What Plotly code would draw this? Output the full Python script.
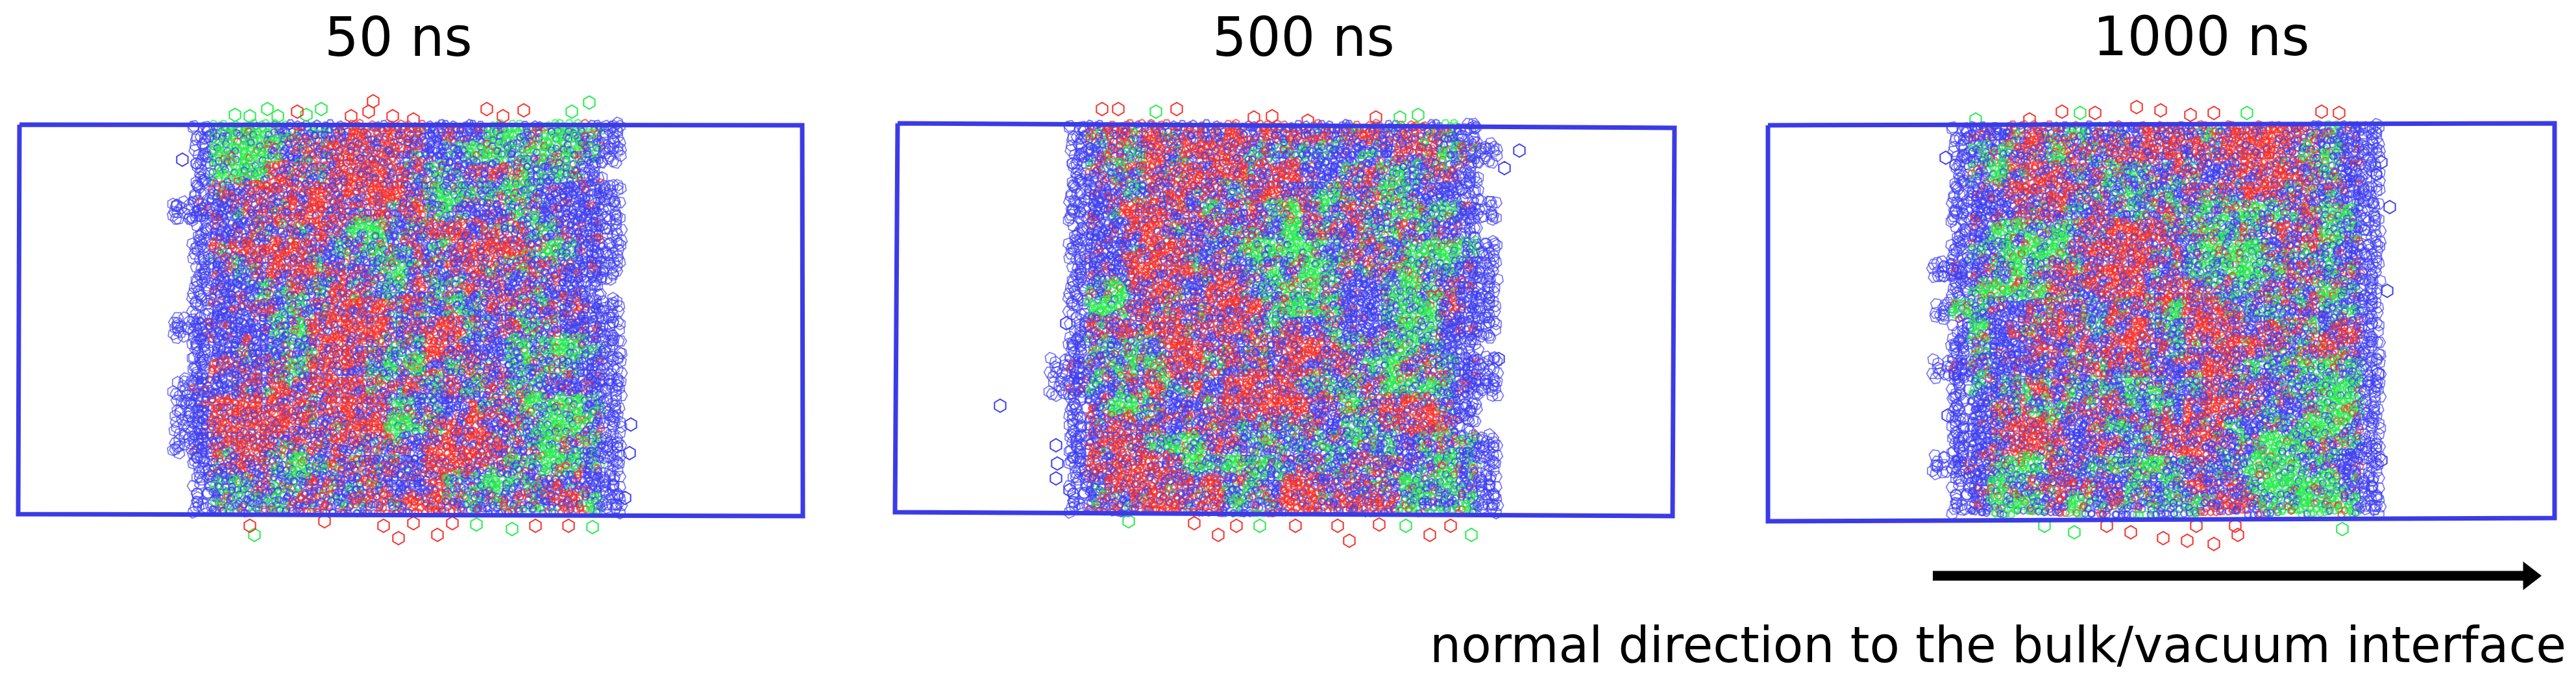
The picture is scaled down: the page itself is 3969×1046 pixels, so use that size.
import plotly.graph_objects as go

# colour read off each 30 px cell of the film, row by row from the top box edge
# . empty, B blue, R red, G green, p blue+red, t blue+green
rows_50 = [
    ".BtGGtptpRRRpBBBtGtGGtt.", ".BGGGtppRRRRpBtGGtGGGtB.", ".tGGGRppRRRRpttppptttB..",
    ".BppRRpRpRRRpGtttGtBBBb.", "bBBpppRRppRpRttBBttBBBb.", ".BBBpppRpGGtpRRpppttBBb.",
    ".BpRRRRpttttptpRRRpttBb.", ".BBtpRRppptGtppRppppBBb.", ".BBBttptppptpttppBpBBb..",
    ".BBBpttpRRRpptttpppppBb.", "bBBBBttRRRRppRRtpptpBBb.", ".BBpBttpRRpttRpBBttGGtB.",
    ".BppBptRRpttGptppttttBB.", "bBBppppRRRppptptpttBBBb.", "bBpRRRRpRRRtttBpppGGGtB.",
    "bBRRRRRppRRGGpRRpptGGtB.", "bBpRRpppRpppBRRRRptGttB.", ".BpRptGtppppBRRRpttGGtB.",
    ".BttpttppppBBpttGttppBB.", ".BttttppppRpRRpttptpRtB.",
]
rows_500 = [
    ".BpRpRpRpRpRRpBpRpRptB..", ".BpptRpRRRtttttBtpRptpB.", ".BptpRpRRRpRRBBtpttppB..",
    ".BBptpRpptpRpttppGtBBB..", ".BBpRRpptpptGptpptGttBB.", ".BBBRRpBptptGpppttptBB..",
    ".BBBpRRpptGGGGtpppttGtB.", ".BBBRRRppptttGtpppGttBB.", ".BtGpRpBpRptGGtBBtGtpBb.",
    ".BGGppppRRRtGGtBBtGGpBb.", ".BpppRRppRptpBtBBtGGBBB.", ".BttttRRppppRRptttGtBB..",
    "bBtttGRRtpppRppptGpptBb.", "bBttpptpBRRRptttpGGGtBb.", ".BtGGpBBpRRRRppGpRRppB..",
    ".BpRppBppppptpBttpRRpB..", ".BpRptGGpptttpttttBtttB.", ".BRRRRpGtGttpptpppBtGtB.",
    ".BpRRRppRpttRRppppGtGtB.", ".BpppRRpRttpRRpRRRGtttB.",
]
rows_1000 = [
    ".BBBpRpGpppRRppRRRRptBB.", ".BttppGpppRRRppRRRpttBb.", ".BtGpRRpptttppBpRRRptBb.",
    ".pBpRRRptttptpppRRpptBb.", ".pBBppptpttppttGGttpttB.", ".BBGGtGppRRRpttttpppGtb.",
    ".BttGGGpRRRpptGGGppptBb.", "bBBtGtppRRRppttGGtpptpB.", ".BGGGGppRRRpRptttpppGtB.",
    "bGtBBppptpppGRRpttppttB.", ".GGBppRptpRptRRRppptpRp.", ".ttBBppppRRptppRppppRpB.",
    "bBtBBBppppppBpRptttGGtB.", ".ttttpptttttttpppBttGGB.", ".BBppttppptttpRRptBtGGB.",
    ".BBpRRpBptppRRptBttGGtB.", ".BBpRRpBpptpRRpptGGtttB.", "bBBtGGpptttGtpptGGGttBB.",
    ".BBGtppppBtttppptGGGGtB.", ".BBGGtpGppttttpRpGGGGtB.",
]

# left edge of each cell grid, picture x
grid_x0 = [270, 1620, 2980]
grid_y0 = [190, 190, 192]

# molecules sticking out of the film
rim_50_x = [362, 385, 412, 428, 472, 495, 881, 908, 392, 734, 789, 913,
            458, 541, 568, 575, 605, 637, 750, 775, 807, 385, 500, 591, 614, 637, 674, 697, 825, 876,
            281, 972, 970, 963]
rim_50_y = [177, 179, 168, 179, 177, 168, 172, 158, 824, 808, 815, 812,
            172, 179, 172, 156, 179, 184, 168, 179, 170, 810, 803, 810, 829, 806, 824, 806, 810, 810,
            246, 654, 698, 767]
rim_50_c = "GGGGGGGGGGGG" + "RRRRRRRRRRRRRRRRRR" + "BBBB"

rim_500_x = [1781, 2185, 2157, 1941, 2166, 2267, 1739,
             1698, 1723, 1813, 1932, 1960, 2015, 2120, 1840, 1877, 1905, 1996, 2061, 2079, 2125, 2203, 2235,
             1627, 1629, 1627, 1648, 1643, 2309, 2318, 2341, 1541]
rim_500_y = [172, 177, 181, 810, 810, 824, 803,
             168, 168, 168, 181, 179, 186, 181, 806, 824, 810, 810, 810, 833, 808, 824, 810,
             686, 714, 737, 755, 498, 553, 259, 232, 625]
rim_500_c = "GGGGGGG" + "RRRRRRRRRRRRRRRR" + "BBBBBBBBB"

rim_1000_x = [3205, 3462, 3044, 3196, 3609, 3150,
              3177, 3228, 3292, 3329, 3375, 3411, 3577, 3604, 3127, 3246, 3283, 3333, 3370, 3411, 3448, 3444, 3384,
              3001, 2998, 3669, 3682, 3678, 3669, 3664, 3012, 3008]
rim_1000_y = [174, 174, 184, 820, 815, 810,
              172, 174, 165, 170, 177, 174, 172, 174, 184, 810, 820, 829, 833, 838, 824, 810, 810,
              640, 243, 250, 319, 448, 709, 576, 576, 415]
rim_1000_c = "GGGGGG" + "RRRRRRRRRRRRRRRRR" + "BBBBBBBBB"

box_50_x = [30, 1236, 1237, 28, 30]
box_50_y = [192, 193, 795, 792, 192]
box_500_x = [1383, 2580, 2577, 1379, 1383]
box_500_y = [190, 197, 795, 789, 190]
box_1000_x = [2724, 3936, 3936, 2724, 2724]
box_1000_y = [193, 190, 798, 803, 193]

titles = ["50 ns", "500 ns", "1000 ns"]
title_x = [614, 2008, 3391]
title_y = [57, 57, 56]

arrow_x = [2978, 3897]
arrow_y = [887, 887]
arrow_label = "normal direction to the bulk/vacuum interface"

BLUE = "#3f3ff0"
RED = "#f6302a"
GREEN = "#26ec4c"
COL = {"b": BLUE, "r": RED, "g": GREEN}
# how a cell letter shares its rings between the three colours
MIX = {"B": "bbbbbbbbrbb", "b": "bbbbbbbbbbb", "R": "rrbrrrbrrbr", "G": "ggbgggbggrg",
       "p": "brbbrbrbgrb", "t": "bgbgbgrbgbb"}
CELL = 30
SUB = 5
PAGE = 8  # the page's own margin around the plot


def weave(i, j, n):
    # fixed index into the mix, so that the rings of a cell do not line up in stripes
    return (7 * i * i + 13 * j * j + 3 * i * j + 5 * i + 11 * j) % 1009 % n


def film_trace(rows, x0, y0):
    xs, ys, cols, angs, sizes, widths = [], [], [], [], [], []
    for r, row in enumerate(rows):
        body = row.strip(".")
        first = row.index(body[0])
        last = first + len(body) - 1
        for c, ch in enumerate(row):
            if ch == ".":
                continue
            edge = c == first or c == last or ch == "b"
            for si in range(SUB):
                for sj in range(SUB):
                    i = r * SUB + si
                    j = c * SUB + sj
                    if edge and weave(i, j, 5) > 2:
                        continue
                    xs.append(x0 + j * CELL / SUB + weave(i, j, 7) * 1.2 - 3.6)
                    ys.append(y0 + i * CELL / SUB + 3 + weave(j, i, 7) * 1.2 - 3.6)
                    cols.append(COL[MIX["b" if edge else ch][weave(i, j, 11)]])
                    angs.append(weave(i, j, 6) * 10)
                    sizes.append(18 if edge else 11)
                    widths.append(1.7 if edge else 2.2)
    return go.Scatter(x=xs, y=ys, mode="markers", hoverinfo="skip", showlegend=False,
                      marker=dict(symbol="hexagon-open", size=sizes, color=cols, angle=angs,
                                  line=dict(width=widths)))


def rim_trace(xs, ys, letters):
    cols = [COL[ch.lower()] for ch in letters]
    return go.Scatter(x=xs, y=ys, mode="markers", hoverinfo="skip", showlegend=False,
                      marker=dict(symbol="hexagon-open", size=20, color=cols, line=dict(width=2)))


def box_trace(xs, ys):
    return go.Scatter(x=xs, y=ys, mode="lines", hoverinfo="skip", showlegend=False,
                      line=dict(color="#3b3be6", width=7))


fig = go.Figure()
all_rows = [rows_50, rows_500, rows_1000]
for k in range(3):
    fig.add_trace(film_trace(all_rows[k], grid_x0[k], grid_y0[k]))
fig.add_trace(rim_trace(rim_50_x, rim_50_y, rim_50_c))
fig.add_trace(rim_trace(rim_500_x, rim_500_y, rim_500_c))
fig.add_trace(rim_trace(rim_1000_x, rim_1000_y, rim_1000_c))
fig.add_trace(box_trace(box_50_x, box_50_y))
fig.add_trace(box_trace(box_500_x, box_500_y))
fig.add_trace(box_trace(box_1000_x, box_1000_y))

# arrow
fig.add_trace(go.Scatter(x=arrow_x, y=arrow_y, mode="lines", hoverinfo="skip", showlegend=False,
                         line=dict(color="black", width=15)))
fig.add_trace(go.Scatter(x=arrow_x[-1:], y=arrow_y[-1:], mode="markers", hoverinfo="skip", showlegend=False,
                         marker=dict(symbol="triangle-right", size=38, color="black")))

for t, x, y in zip(titles, title_x, title_y):
    fig.add_annotation(x=x, y=y, text=t, showarrow=False, xanchor="center", yanchor="middle",
                       font=dict(family="DejaVu Sans", size=83, color="black"))
fig.add_annotation(x=3956, y=993, text=arrow_label, showarrow=False, xanchor="right", yanchor="middle",
                   font=dict(family="DejaVu Sans", size=76, color="black"))

fig.update_layout(
    width=3969, height=1046, margin=dict(l=0, r=0, t=0, b=0),
    paper_bgcolor="white", plot_bgcolor="white", showlegend=False,
    xaxis=dict(range=[PAGE, 3969 + PAGE], visible=False),
    yaxis=dict(range=[1046 + PAGE, PAGE], visible=False),
)

fig.write_html("out.html")
